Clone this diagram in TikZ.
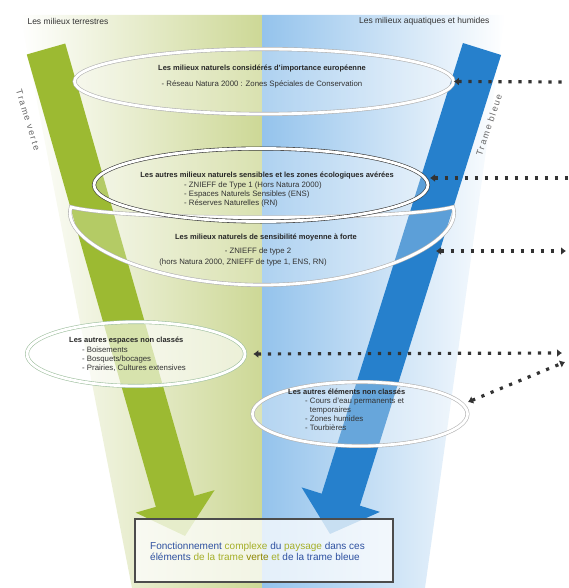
\documentclass[tikz,border=0pt]{standalone}
\usepackage{fontspec}
\setmainfont{Liberation Sans}
\usetikzlibrary{arrows.meta,positioning,calc,shapes.geometric}
\definecolor{vertfleche}{RGB}{156,186,50}
\definecolor{bleufleche}{RGB}{38,128,204}
\definecolor{vertfond}{RGB}{205,216,150}
\definecolor{bleufond}{RGB}{148,195,236}
\definecolor{textebleu}{RGB}{45,80,160}
\definecolor{texteolive}{RGB}{165,175,40}

\begin{document}
\begin{tikzpicture}[x=1pt,y=-1pt,
    milieu/.style={ellipse, draw=gray!60, double=white, double distance=2.8pt,
      line width=0.6pt, fill=white, fill opacity=0.25, inner sep=0pt},
    titre/.style={font=\fontsize{7.5}{8}\selectfont\bfseries, text=black!85, inner sep=0pt},
    liste/.style={font=\fontsize{7.8}{9}\selectfont, text=black!80, align=left, inner sep=0pt},
    haut/.style={font=\fontsize{8.5}{9}\selectfont, text=black!80},
    trame/.style={font=\fontsize{9}{10}\selectfont\addfontfeatures{LetterSpace=18}, text=black!60},
    pointille/.style={line width=3.2pt, black!80, dash pattern=on 3.2pt off 6.8pt},
    bout/.style={{Latex[length=5pt,width=8pt]}-},
    deuxbouts/.style={{Latex[length=5pt,width=8pt]}-{Latex[length=5pt,width=8pt]}}]
  \useasboundingbox (0,0) rectangle (568,588);
  % Funnel background (green half and blue half)
  \begin{scope}
    \clip (20,15) -- (262,15) -- (262,588) -- (132,588) -- cycle;
    \shade[left color=white, right color=vertfond] (20,15) rectangle (262,588);
  \end{scope}
  \begin{scope}
    \clip (262,15) -- (505,15) -- (425,588) -- (262,588) -- cycle;
    \shade[left color=bleufond, right color=white] (262,15) rectangle (505,588);
  \end{scope}
  \node[haut, anchor=west] (terre) at (24,21) {Les milieux terrestres};
  \node[haut, anchor=east] (eau) at (493,21) {Les milieux aquatiques et humides};
  % Big arrows
  \coordinate (vtop) at (46,49);
  \coordinate (vtip) at (185,536);
  \coordinate (btop) at (482,49);
  \coordinate (btip) at (330,534);
  \draw[line width=40pt, vertfleche, -{Triangle[length=36pt,width=80pt]}] (vtop) -- (vtip);
  \draw[line width=40pt, bleufleche, -{Triangle[length=36pt,width=80pt]}] (btop) -- (btip);
  \node[trame, rotate=-73] (tverte) at (28,120) {Trame verte};
  \node[trame, rotate=71.5] (tbleue) at (489,125) {Trame bleue};
  % Levels
  \node[milieu, minimum width=379, minimum height=65] (e1) at (264,81.5) {};
  \draw[draw=gray!60, double=white, double distance=2.8pt, line width=0.6pt, fill=white, fill opacity=0.25]
    (71,207) .. controls (60,242) and (150,285) .. (262,285)
    .. controls (374,285) and (464,242) .. (453,207)
    .. controls (400,221) and (124,221) .. cycle;
  \coordinate (e3) at (436,251);
  \node[milieu, draw=gray!45!black, minimum width=334, minimum height=73] (e2) at (261,185) {};
  \coordinate (e2r) at (430,178);
  \node[milieu, draw=green!20!gray!60, fill opacity=0.6, minimum width=218, minimum height=64] (e4) at (136,354) {};
  \node[milieu, fill opacity=0.3, minimum width=215, minimum height=64] (e5) at (360,414) {};
  \coordinate (e5r) at (468,402);
  \node[titre] (t1) at (262,69) {Les milieux naturels considérés d'importance européenne};
  \node[liste] (l1) at (262,84) {- Réseau Natura 2000 : Zones Spéciales de Conservation};
  \node[titre] (t2) at (267,176) {Les autres milieux naturels sensibles et les zones écologiques avérées};
  \node[liste, anchor=north west] (l2) at (184,182) {- ZNIEFF de Type 1 (Hors Natura 2000)\\- Espaces Naturels Sensibles (ENS)\\- Réserves Naturelles (RN)};
  \node[titre] (t3) at (266,238) {Les milieux naturels de sensibilité moyenne à forte};
  \node[liste] (l3a) at (258,251) {- ZNIEFF de type 2};
  \node[liste] (l3b) at (243,262) {(hors Natura 2000, ZNIEFF de type 1, ENS, RN)};
  \node[titre, anchor=west] (t4) at (69,341) {Les autres espaces non classés};
  \node[liste, anchor=north west] (l4) at (82,347) {- Boisements\\- Bosquets/bocages\\- Prairies, Cultures extensives};
  \node[titre, anchor=west] (t5) at (288,392) {Les autres éléments non classés};
  \node[liste, anchor=north west] (l5) at (305,398) {- Cours d'eau permanents et\\\hphantom{- }temporaires\\- Zones humides\\- Tourbières};
  % Result box
  \node[draw=black!70, line width=2.2pt, fill=white, fill opacity=0.75, minimum width=258, minimum height=63] (bilan) at (264,550.5) {};
  \node[font=\fontsize{10}{11}\selectfont, align=left, anchor=west, inner sep=0pt] (tbilan) at (150,551)
    {\textcolor{textebleu}{Fonctionnement} \textcolor{texteolive}{complexe} \textcolor{textebleu}{du} \textcolor{texteolive}{paysage} \textcolor{textebleu}{dans ces}\\
     \textcolor{textebleu}{éléments} \textcolor{texteolive}{de la trame} \textcolor{olive}{verte} \textcolor{texteolive}{et} \textcolor{textebleu}{de la trame bleue}};
  % Dotted links to the right
  \coordinate (r1) at (568,82);
  \coordinate (r2) at (568,178);
  \coordinate (r3) at (566,251);
  \coordinate (r4) at (562,353);
  \coordinate (r5) at (565,362);
  \draw[pointille, bout] (e1.east) -- (r1);
  \draw[pointille, bout] (e2r) -- (r2);
  \draw[pointille, deuxbouts] (e3) -- (r3);
  \draw[pointille, deuxbouts, shorten <=8pt] (e4.east) -- (r4);
  \draw[pointille, deuxbouts] (e5r) -- (r5);
\end{tikzpicture}
\end{document}
